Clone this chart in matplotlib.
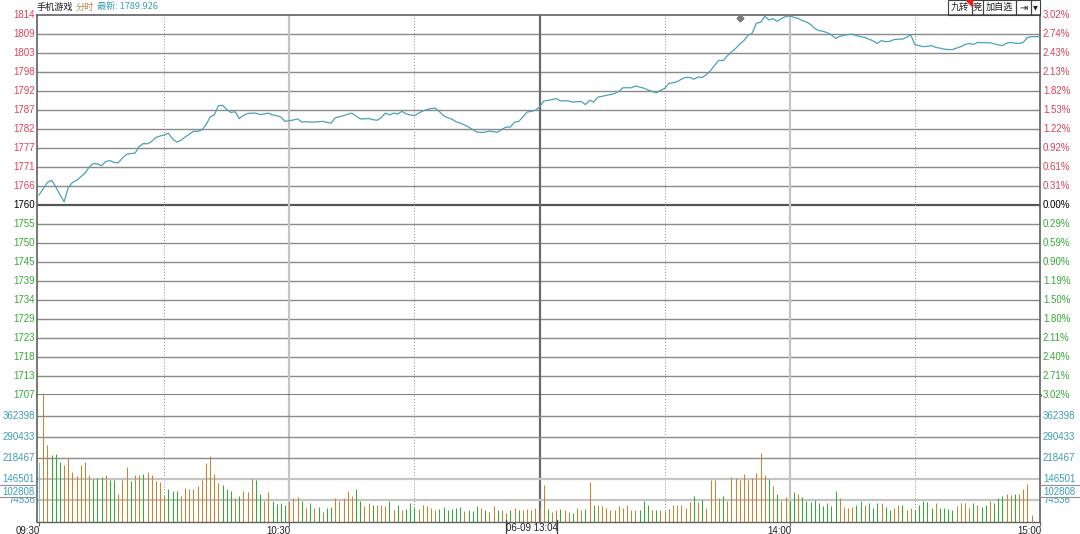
import matplotlib
matplotlib.use("Agg")
import matplotlib.pyplot as plt
import numpy as np
from matplotlib.patches import Rectangle, Polygon
from matplotlib.lines import Line2D

# ---------------- data ----------------
stock_name = "手机游戏"
mode_label = "分时"
latest_label = "最新: 1789.926"

base_price = 1760.4
pct_max = 3.02

price_labels = ["1707", "1713", "1718", "1723", "1729", "1734", "1739", "1745", "1750", "1755",
                "1760", "1766", "1771", "1777", "1782", "1787", "1792", "1798", "1803", "1809", "1814"]
pct_labels = ["3.02%", "2.71%", "2.40%", "2.11%", "1.80%", "1.50%", "1.19%", "0.90%", "0.59%", "0.29%",
              "0.00%", "0.31%", "0.61%", "0.92%", "1.22%", "1.53%", "1.82%", "2.13%", "2.43%", "2.74%", "3.02%"]

price = [
    1763.2, 1765.0, 1766.7, 1767.3, 1765.5, 1763.3, 1761.3, 1765.3, 1766.7, 1767.3,
    1768.3, 1769.3, 1771.0, 1772.0, 1771.9, 1771.4, 1772.6, 1772.8, 1772.3, 1772.2,
    1773.6, 1774.6, 1774.8, 1774.9, 1776.8, 1777.6, 1777.5, 1778.2, 1779.3, 1779.7,
    1780.0, 1780.5, 1778.9, 1778.0, 1778.5, 1779.4, 1780.2, 1781.0, 1781.0, 1781.4,
    1782.8, 1785.0, 1785.6, 1788.2, 1788.3, 1787.1, 1786.3, 1786.5, 1784.6, 1785.5,
    1786.0, 1786.1, 1786.1, 1785.7, 1785.9, 1786.1, 1785.6, 1785.4, 1785.0, 1783.8,
    1784.0, 1784.2, 1784.5, 1783.6, 1783.7, 1783.6, 1783.6, 1783.7, 1783.8, 1783.5,
    1783.3, 1784.8, 1785.1, 1785.4, 1785.8, 1786.1, 1785.3, 1784.5, 1784.5, 1784.6,
    1784.3, 1784.1, 1784.8, 1786.1, 1785.6, 1786.1, 1785.9, 1786.6, 1785.9, 1785.6,
    1785.4, 1786.1, 1786.7, 1787.1, 1787.4, 1787.5, 1786.5, 1785.4, 1784.8, 1784.4,
    1783.7, 1783.3, 1782.8, 1782.2, 1781.5, 1780.8, 1780.7, 1780.8, 1781.1, 1780.9,
    1780.8, 1781.6, 1782.2, 1782.2, 1783.6, 1783.8, 1785.0, 1786.4, 1786.6, 1786.9,
    1787.8, 1789.5, 1789.7, 1789.9, 1790.2, 1789.5, 1789.6, 1789.5, 1789.2, 1789.3,
    1789.4, 1788.5, 1789.7, 1789.2, 1790.6, 1790.8, 1791.1, 1791.3, 1791.6, 1792.2,
    1793.2, 1793.2, 1793.2, 1793.7, 1793.4, 1793.1, 1792.6, 1792.2, 1791.8, 1792.5,
    1793.0, 1794.4, 1794.6, 1794.9, 1795.6, 1796.1, 1796.1, 1795.6, 1796.2, 1796.1,
    1796.9, 1798.0, 1799.5, 1800.9, 1800.8, 1802.1, 1803.2, 1804.2, 1805.4, 1806.4,
    1807.9, 1808.5, 1811.3, 1811.5, 1813.2, 1812.2, 1812.5, 1811.8, 1812.6, 1813.1,
    1813.3, 1812.9, 1812.6, 1812.0, 1811.6, 1810.9, 1809.8, 1809.2, 1809.0, 1808.6,
    1808.0, 1807.0, 1807.6, 1807.9, 1808.1, 1808.2, 1807.8, 1807.5, 1807.3, 1806.8,
    1806.3, 1805.6, 1806.4, 1806.1, 1806.2, 1806.7, 1806.8, 1806.8, 1807.3, 1808.0,
    1805.3, 1805.0, 1804.7, 1804.8, 1805.0, 1804.5, 1804.3, 1804.0, 1803.9, 1803.9,
    1804.3, 1804.7, 1805.3, 1805.6, 1805.3, 1805.9, 1805.8, 1805.8, 1805.8, 1805.5,
    1805.2, 1805.0, 1805.7, 1805.9, 1805.7, 1805.6, 1805.9, 1807.3, 1807.5, 1807.5,
    1807.5,
]

volume_k = [
    203, 450, 264, 230, 233, 204, 195, 219, 170, 155,
    194, 204, 161, 147, 151, 153, 161, 143, 143, 95,
    144, 186, 140, 161, 159, 163, 171, 161, 138, 137,
    92, 110, 106, 106, 89, 114, 110, 110, 122, 142,
    200, 224, 163, 132, 124, 110, 104, 79, 86, 104,
    102, 147, 142, 96, 72, 102, 72, 61, 64, 56,
    66, 82, 83, 72, 45, 62, 45, 51, 34, 48,
    50, 81, 72, 79, 106, 89, 112, 72, 53, 64,
    58, 58, 58, 53, 72, 41, 58, 41, 42, 62,
    48, 43, 58, 53, 45, 41, 43, 50, 38, 42,
    45, 50, 35, 38, 37, 53, 48, 40, 34, 53,
    38, 38, 29, 38, 45, 41, 38, 42, 41, 45,
    46, 127, 43, 32, 40, 43, 40, 33, 30, 45,
    38, 42, 137, 58, 58, 53, 45, 38, 41, 53,
    45, 55, 41, 39, 41, 72, 55, 40, 38, 38,
    35, 42, 58, 55, 55, 48, 68, 86, 66, 75,
    48, 144, 144, 79, 89, 72, 154, 151, 144, 163,
    144, 151, 168, 236, 158, 147, 123, 95, 72, 83,
    72, 100, 95, 83, 72, 66, 75, 64, 53, 63,
    53, 104, 82, 50, 48, 50, 58, 72, 55, 62,
    45, 63, 62, 50, 41, 48, 55, 55, 41, 48,
    41, 55, 72, 68, 48, 65, 45, 48, 43, 38,
    53, 62, 62, 45, 62, 55, 50, 58, 72, 62,
    79, 86, 96, 92, 95, 95, 112, 130, 23, 0,
    215,
]

# n = opening auction, u = up (orange), d = down (green)
direction = ("nuuddduuuu" "uuuddduddu" "uuduuduuuu" "uddduuuuuu" "uuuudddudu" "uudduudddd" "u"
             "uududududd" "uuuuudduud" "uuudududdd" "uuuuuddddd" "duddduduud" "uududuuuuu"
             "uduuduuduu" "duduuuuuuu" "uuuddduduu" "uuuuuududu" "uuuduuuuuu" "uuuududuud"
             "dudddddddd" "duuuuddudd" "dudduuduud" "dddduddddu" "uuududdudd" "duuduuuuud")

vol_axis_max = 434364
vol_tick_values = [362398, 290433, 218467, 146501, 74536]
vol_box_value = 102808

time_ticks = [0, 60, 180, 240]
time_labels = ["09:30", "10:30", "14:00", "15:00"]
dotted_minutes = [30, 90, 150, 210]
light_minutes = [60, 180]
break_minute = 120
cursor_label = "06-09 13:04"

marker_minute = 168
marker_price = 1812.8

buttons = ["九转", "竞", "加自选", "⇥", "▾"]

# ---------------- style ----------------
W, H = 1080, 534
RED = "#e0405a"
GREEN = "#36a936"
TEAL = "#3c9fb4"
ORANGE = "#c4862f"
BROWN = "#c08a40"
GRID = "#8a8a8a"
DARK = "#606060"
LIGHT = "#c4c4c4"
FONT = ["Liberation Sans", "DejaVu Sans"]
CJK = ["Noto Sans CJK SC", "DejaVu Sans"]

plt.rcParams["font.family"] = FONT


def fx(x):
    return x / W


def fy(y):
    return 1 - y / H


fig = plt.figure(figsize=(W / 100, H / 100), dpi=100)
fig.patch.set_facecolor("white")

L, R = 37, 1040
T, M, B = 15, 395, 521.5
ax1 = fig.add_axes([fx(L), fy(M), (R - L) / W, (M - T) / H])
ax2 = fig.add_axes([fx(L), fy(B), (R - L) / W, (B - M) / H], sharex=ax1)

n = len(price)
x = np.arange(n)
lo = base_price * (1 - pct_max / 100)
hi = base_price * (1 + pct_max / 100)
levels = np.linspace(lo, hi, len(price_labels))

for ax in (ax1, ax2):
    ax.set_xlim(-0.5, n - 1)
    ax.set_facecolor("white")
    ax.tick_params(left=False, right=False, labelleft=False, labelright=False)
    for s in ax.spines.values():
        s.set_color(DARK)
        s.set_linewidth(1.2)

ax1.set_ylim(lo, hi)
ax1.tick_params(bottom=False, labelbottom=False)

# horizontal grid in price panel
for k, lv in enumerate(levels):
    if k == 10:
        ax1.axhline(lv, color="#555555", lw=1.6, zorder=1)
    elif k in (0, len(levels) - 1):
        continue
    else:
        ax1.axhline(lv, color=GRID, lw=1.0, zorder=1)
ax1.spines["bottom"].set_linewidth(1.8)
ax1.spines["bottom"].set_color("#555555")

ytr = ax1.get_yaxis_transform()
for k, lv in enumerate(levels):
    col = GREEN if k < 10 else ("black" if k == 10 else RED)
    ax1.text(-0.002, lv, price_labels[k], transform=ytr, ha="right", va="center",
             fontsize=7, color=col, clip_on=False)
    ax1.text(1.003, lv, pct_labels[k], transform=ytr, ha="left", va="center",
             fontsize=7, color=col, clip_on=False)

# vertical grid lines
for ax in (ax1, ax2):
    for m in dotted_minutes:
        ax.axvline(m, color="#8c8c8c", lw=0.7, ls=(0, (1, 2)), zorder=1)
    for m in light_minutes:
        ax.axvline(m, color=LIGHT, lw=1.6, zorder=1)
    ax.axvline(break_minute, color="#6a6a6a", lw=1.6, zorder=1)

# price line
ax1.plot(x, price, color="#4aa2b4", lw=0.9, zorder=3)
ax1.plot([marker_minute], [marker_price], marker="D", ms=3.5, color="#7a7a7a", zorder=4,
         clip_on=False)

# volume panel
ax2.set_ylim(0, vol_axis_max)
color_map = {"u": ORANGE, "d": GREEN, "n": "#7fc4d2"}
bar_colors = [color_map[c] for c in direction]
volume = np.array(volume_k) * 1000
ax2.vlines(x, 0, volume, colors=bar_colors, lw=0.75, zorder=2, snap=True)

for v in vol_tick_values[:3]:
    ax2.axhline(v, color=GRID, lw=1.0, zorder=1)
for v in vol_tick_values[3:]:
    ax2.axhline(v, color=LIGHT, lw=1.6, zorder=1)

vtr = ax2.get_yaxis_transform()
for v in vol_tick_values:
    ax2.text(-0.002, v, f"{v}", transform=vtr, ha="right", va="center", fontsize=7,
             color=TEAL, clip_on=False)
    ax2.text(1.003, v, f"{v}", transform=vtr, ha="left", va="center", fontsize=7,
             color=TEAL, clip_on=False)
for side_x, ha in ((-0.002, "right"), (1.003, "left")):
    ax2.text(side_x, vol_box_value, f"{vol_box_value}", transform=vtr, ha=ha, va="center",
             fontsize=7, color=TEAL, clip_on=False, zorder=5,
             bbox=dict(boxstyle="square,pad=0.12", fc="white", ec="none"))

# box lines around cursor volume value
for yy in (485, 497):
    fig.add_artist(Line2D([0, fx(L)], [fy(yy), fy(yy)], color="#909090", lw=0.8))
    fig.add_artist(Line2D([fx(R), 1], [fy(yy), fy(yy)], color="#909090", lw=0.8))

ax2.spines["top"].set_visible(False)
ax2.spines["bottom"].set_linewidth(1.0)
ax2.set_xticks(time_ticks)
ax2.set_xticklabels([])
ax2.tick_params(axis="x", length=3, width=0.8, color=DARK, direction="out", pad=1)
xtr = ax2.get_xaxis_transform()
for t, lab in zip(time_ticks, time_labels):
    ax2.text(t + 0.3, -0.035, lab, transform=xtr, ha="right", va="top", fontsize=7,
             color="#202020", clip_on=False)

# cursor time label
fig.text(fx(531.5), fy(528), cursor_label, ha="center", va="center", fontsize=7, color="#202020")
for xx in (506, 557):
    fig.add_artist(Line2D([fx(xx), fx(xx)], [fy(520), fy(534)], color="#404040", lw=0.9))

# title
fig.text(fx(37), fy(7), stock_name, family=CJK, fontsize=6.6, color="#1a1a1a", va="center")
fig.text(fx(76), fy(7), mode_label, family=CJK, fontsize=6.6, color=BROWN, va="center")
fig.text(fx(97), fy(7), latest_label, family=CJK, fontsize=6.6, color=TEAL, va="center")

# buttons in the top right
btn_edges = [948, 972, 983, 1016, 1031, 1040]
for k, lab in enumerate(buttons):
    x0, x1 = btn_edges[k], btn_edges[k + 1]
    fig.add_artist(Rectangle((fx(x0), fy(T)), (x1 - x0) / W, T / H, transform=fig.transFigure,
                             fill=False, edgecolor="#404040", lw=0.8))
    fig.text(fx((x0 + x1) / 2), fy(7.5), lab, family=CJK if k < 3 else ["DejaVu Sans"],
             fontsize=6.6 if k < 3 else 7, color="#202020", ha="center", va="center")
fig.add_artist(Polygon([[fx(966), fy(0)], [fx(972), fy(0)], [fx(972), fy(6)]], closed=True,
                       transform=fig.transFigure, color="#e02020"))

fig.savefig("out.png", dpi=100, facecolor="white")
